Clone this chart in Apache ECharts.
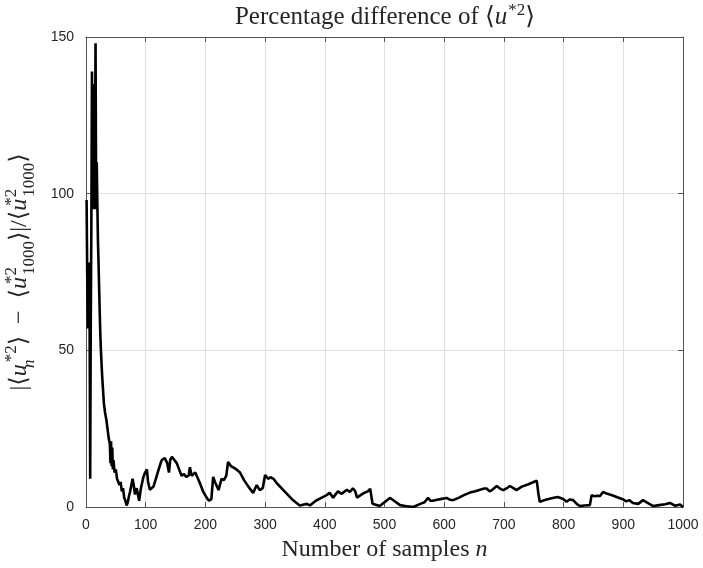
<!DOCTYPE html>
<html>
<head>
<meta charset="utf-8">
<script src="https://cdn.jsdelivr.net/npm/echarts@6/dist/echarts.min.js"></script>
<style>
  html, body { margin: 0; padding: 0; background: #fff; }
  #chart { width: 703px; height: 568px; }
</style>
</head>
<body>
<div id="chart"></div>
<script>
// Sample count n at which the running mean was evaluated
const sampleN = [
  1, 2, 3, 4, 5, 6, 7, 8, 9, 10, 11, 12, 13, 14, 15, 16, 17, 18, 19, 20,
  21, 22, 23, 24, 25, 26, 27, 28, 30, 32, 34, 36, 38, 40, 41, 42, 43, 44, 45, 46,
  48, 50, 52, 54, 56, 58, 60, 62, 64, 66, 68, 70, 72, 74, 76, 78, 80, 82, 85, 87,
  89, 92, 96, 99, 102, 104, 107, 110, 113, 117, 121, 125, 127, 130, 132, 134, 136, 139, 141, 144,
  148, 152, 156, 160, 164, 168, 172, 174, 177, 183, 190, 196, 202, 206, 210, 213, 216, 219, 222, 227,
  231, 235, 238, 243, 248, 252, 258, 265, 272, 280, 286, 291, 296, 300, 305, 309, 314, 320, 325, 335,
  345, 358, 365, 370, 375, 385, 395, 403, 408, 414, 422, 428, 431, 437, 442, 447, 451, 454, 460, 466,
  472, 476, 480, 492, 500, 509, 516, 526, 535, 548, 560, 567, 573, 577, 581, 588, 596, 604, 610, 615,
  625, 633, 643, 652, 660, 667, 671, 676, 680, 688, 694, 699, 705, 710, 716, 721, 730, 740, 748, 755,
  758, 760, 770, 780, 790, 796, 800, 805, 810, 816, 822, 827, 835, 844, 847, 852, 856, 861, 866, 872,
  880, 890, 899, 905, 910, 916, 925, 933, 940, 950, 960, 970, 978, 987, 995, 1000
];

// |<u_n^{*2}> - <u_1000^{*2}>| / <u_1000^{*2}>, in percent
const pctDiff = [
  98, 75, 57, 66, 78, 62, 9, 60, 90, 139, 100, 120, 95, 135, 110, 148, 95, 110, 97, 85,
  78, 70, 62, 55, 50, 46, 42, 39, 33, 30, 28, 25, 22, 20, 14, 21, 13, 19, 12, 15,
  11, 12, 9, 9.5, 7, 8, 5, 6, 3, 2, 0.5, 1.5, 3.5, 5, 7, 9, 7, 4, 6, 6,
  2, 6, 9.5, 11, 12, 8, 5.5, 6, 6.5, 9, 11.5, 14, 15, 14.5, 15.6, 14.8, 14, 11, 15, 16,
  15, 14, 12, 10, 10.5, 9.6, 10, 12.7, 10, 11, 8, 5, 3, 2, 2.5, 9.6, 8, 8.6, 5.4, 9,
  8.6, 10, 14.4, 13, 12.5, 12, 11, 8.5, 6.5, 4.5, 7, 5.4, 6, 10.2, 9, 9.5, 9, 7.5, 6.5, 4.5,
  2.5, 0.5, 0.8, 1, 0.5, 2, 3, 3.8, 4.5, 3, 5, 4.2, 4.4, 5.5, 4.8, 6, 5, 3, 3.8, 4.5,
  5, 5.8, 1, 0.3, 1.5, 2.9, 2, 0.6, 0.3, 0, 1, 1.5, 2.9, 2, 2, 2.3, 2.6, 2.9, 2.3, 2.2,
  3, 3.8, 4.6, 5, 5.5, 5.9, 5.9, 5, 5.4, 6.7, 5.8, 5.4, 6, 6.7, 6, 5.4, 6.5, 7.2, 7.8, 8.4,
  4, 1.7, 2.3, 2.8, 3.2, 2.8, 2.5, 1.7, 2.4, 2.2, 1, 0.3, 0.5, 0.6, 3.8, 3.4, 3.6, 3.5, 4.8, 4.3,
  3.8, 3.1, 2.5, 1.8, 2.2, 1.3, 1, 2.2, 1.4, 0.3, 0.6, 0.9, 1.3, 0.4, 0.8, 0
];

const xTicks = [0, 1000, 100];   // min, max, step
const yTicks = [0, 150, 50];

const axisColor = '#555';
const labelColor = '#262626';
const gridColor = '#e0e0e0';
const serif = '"Liberation Serif", "DejaVu Serif", serif';
const sans = '"Liberation Sans", Arial, sans-serif';

// rich-text pieces for the math labels
function mathRich(size, small, lh, supPad, subPad) {
  const base = { fontFamily: serif, color: labelColor, fontWeight: 'normal' };
  return {
    t:    Object.assign({}, base, { fontSize: size, lineHeight: lh, verticalAlign: 'middle' }),
    it:   Object.assign({}, base, { fontSize: size, fontStyle: 'italic', lineHeight: lh, verticalAlign: 'middle' }),
    sup:  Object.assign({}, base, { fontSize: small, lineHeight: small, verticalAlign: 'top', padding: [supPad, 0, 0, 1] }),
    sup0: Object.assign({}, base, { fontSize: small, lineHeight: small, verticalAlign: 'top', padding: [supPad, 0, 0, 1], width: 1 }),
    sub:  Object.assign({}, base, { fontSize: small, lineHeight: small, verticalAlign: 'bottom', padding: [0, 0, subPad, 0] }),
    subi0:Object.assign({}, base, { fontSize: small, fontStyle: 'italic', lineHeight: small, verticalAlign: 'bottom', padding: [0, 0, subPad, 0], width: 1 })
  };
}

const chart = echarts.init(document.getElementById('chart'), null, { renderer: 'canvas' });

const data = sampleN.map((n, i) => [n, pctDiff[i]]);

const boxAxis = {
  type: 'value',
  axisLine: { show: true, onZero: false, lineStyle: { color: axisColor, width: 1 } },
  axisTick: { show: true, inside: true, length: 5, lineStyle: { color: axisColor } },
  axisLabel: { show: false },
  splitLine: { show: false }
};

chart.setOption({
  animation: false,
  backgroundColor: '#fff',
  title: {
    text: '{t|Percentage difference of ⟨}{it|u}{sup|*2}{t|⟩}',
    left: 385,
    textAlign: 'center',
    top: 0,
    padding: 0,
    textStyle: { rich: mathRich(25, 17, 34, 2, 1) }
  },
  grid: { left: 86, right: 20, top: 37, bottom: 61, containLabel: false, outerBoundsMode: 'none' },
  xAxis: [
    {
      type: 'value',
      min: xTicks[0], max: xTicks[1], interval: xTicks[2],
      axisLine: { show: true, onZero: false, lineStyle: { color: axisColor, width: 1 } },
      axisTick: { show: true, inside: true, length: 5, lineStyle: { color: axisColor } },
      axisLabel: { color: labelColor, fontFamily: sans, fontSize: 14, margin: 11, formatter: v => String(v) },
      splitLine: { show: true, lineStyle: { color: gridColor, width: 1 } },
      name: '{t|Number of samples }{it|n}',
      nameLocation: 'middle',
      nameGap: 27,
      nameTextStyle: { rich: mathRich(24, 17, 32, 2, 1) }
    },
    Object.assign({}, boxAxis, { position: 'top', min: xTicks[0], max: xTicks[1], interval: xTicks[2] })
  ],
  yAxis: [
    {
      type: 'value',
      min: yTicks[0], max: yTicks[1], interval: yTicks[2],
      axisLine: { show: true, onZero: false, lineStyle: { color: axisColor, width: 1 } },
      axisTick: { show: true, inside: true, length: 5, lineStyle: { color: axisColor } },
      axisLabel: { color: labelColor, fontFamily: sans, fontSize: 14, margin: 12 },
      splitLine: { show: true, lineStyle: { color: gridColor, width: 1 } },
      name: '{t||⟨}{it|u}{subi0|n}{sup|*2}{t|⟩  −  ⟨}{it|u}{sup0|*2}{sub|1000}{t|⟩|/⟨}{it|u}{sup0|*2}{sub|1000}{t|⟩}',
      nameLocation: 'middle',
      nameRotate: 90,
      nameGap: 36,
      nameTextStyle: { rich: mathRich(24, 17, 40, 3, 2) }
    },
    Object.assign({}, boxAxis, { position: 'right', min: yTicks[0], max: yTicks[1], interval: yTicks[2] })
  ],
  series: [
    {
      type: 'line',
      data: data,
      xAxisIndex: 0,
      yAxisIndex: 0,
      showSymbol: false,
      symbol: 'none',
      lineStyle: { color: '#000', width: 2.6 },
      z: 5
    }
  ]
});
</script>
</body>
</html>
